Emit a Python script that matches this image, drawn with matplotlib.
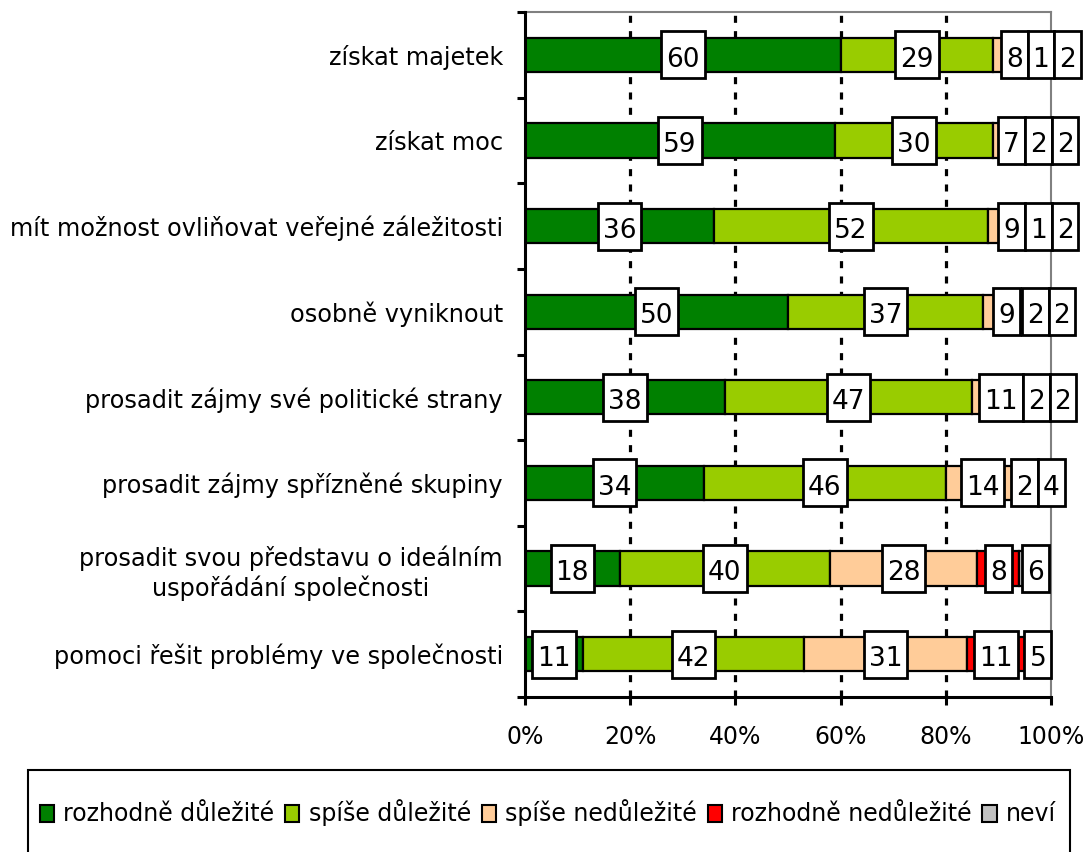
import matplotlib
matplotlib.use("Agg")
import matplotlib.pyplot as plt
from matplotlib.patches import Rectangle, Patch
import numpy as np

categories = [
    "získat majetek",
    "získat moc",
    "mít možnost ovliňovat veřejné záležitosti",
    "osobně vyniknout",
    "prosadit zájmy své politické strany",
    "prosadit zájmy spřízněné skupiny",
    "prosadit svou představu o ideálním\nuspořádání společnosti",
    "pomoci řešit problémy ve společnosti",
]
rozhodne_dulezite = [60, 59, 36, 50, 38, 34, 18, 11]
spise_dulezite = [29, 30, 52, 37, 47, 46, 40, 42]
spise_nedulezite = [8, 7, 9, 9, 11, 14, 28, 31]
rozhodne_nedulezite = [1, 2, 1, 2, 2, 2, 8, 11]
nevi = [2, 2, 2, 2, 2, 4, 6, 5]

series_names = ["rozhodně důležité", "spíše důležité", "spíše nedůležité",
                "rozhodně nedůležité", "neví"]
series = [rozhodne_dulezite, spise_dulezite, spise_nedulezite,
          rozhodne_nedulezite, nevi]
colors = ["#008000", "#99CC00", "#FFCC99", "#FF0000", "#C0C0C0"]
xticks = [0, 20, 40, 60, 80, 100]
xtick_labels = ["0%", "20%", "40%", "60%", "80%", "100%"]

FS = 17
FS_CAT = 17.3
FS_VAL = 19
plt.rcParams['font.family'] = ['DejaVu Sans']

W, H = 1088, 852
fig = plt.figure(figsize=(W / 100, H / 100), dpi=100)
ax = fig.add_axes([525 / W, 1 - 697 / H, (1051 - 525) / W, (697 - 12) / H])

n = len(categories)
y = np.arange(n)
bar_h = 0.4
left = np.zeros(n)
for vals, c in zip(series, colors):
    ax.barh(y, vals, left=left, height=bar_h, color=c, edgecolor="black",
            linewidth=1.6, zorder=2)
    left = left + np.array(vals)

ax.set_xlim(0, 100)
ax.set_ylim(n - 0.5, -0.5)

# grid lines
for gx in [20, 40, 60, 80]:
    ax.axvline(gx, color="black", lw=2.3, linestyle=(0, (2.2, 2.6)), zorder=1)

# spines
ax.spines['top'].set_color("#808080")
ax.spines['right'].set_color("#808080")
ax.spines['top'].set_linewidth(1.5)
ax.spines['right'].set_linewidth(1.5)
ax.spines['left'].set_linewidth(2.2)
ax.spines['bottom'].set_linewidth(2.2)
ax.spines['left'].set_zorder(5)
ax.spines['bottom'].set_zorder(5)

ax.set_yticks(y)
ax.set_yticklabels(categories, fontsize=FS_CAT, multialignment="center")
ax.set_yticks(np.arange(-0.5, n, 1.0), minor=True)
ax.tick_params(axis='y', which='major', length=0, pad=16)
ax.tick_params(axis='y', which='minor', length=6, width=2.2, direction='out')
ax.set_xticks(xticks)
ax.set_xticklabels(xtick_labels, fontsize=FS)
ax.tick_params(axis='x', which='major', length=6, width=2.2, direction='out', pad=14)

# value labels in boxes, pushed right to avoid overlaps
fig.canvas.draw()
renderer = fig.canvas.get_renderer()
px_per_unit = ax.bbox.width / 100.0
box_h = 0.55
pad_px = 5
for i in range(n):
    start = 0.0
    prev_right = -1e9
    for vals in series:
        v = vals[i]
        center = start + v / 2.0
        start += v
        t = ax.text(center, i, str(v), fontsize=FS_VAL, ha="center", va="center_baseline",
                    zorder=6, clip_on=False)
        tw = t.get_window_extent(renderer).width
        wbox = (tw + 2 * pad_px) / px_per_unit
        l = center - wbox / 2.0
        if l < prev_right:
            l = prev_right
        center = l + wbox / 2.0
        t.set_x(center)
        t.set_y(i + 0.02)
        ax.add_patch(Rectangle((l, i - box_h / 2), wbox, box_h, facecolor="white",
                               edgecolor="black", lw=2.0, zorder=5, clip_on=False))
        prev_right = l + wbox

# legend frame
fig.patches.append(Rectangle((28 / W, (852 - 858) / H), (1070 - 28) / W, 88 / H,
                             transform=fig.transFigure, facecolor="none",
                             edgecolor="black", lw=1.5, zorder=0))
handles = [Patch(facecolor=c, edgecolor="black", lw=1.5) for c in colors]
fig.legend(handles, series_names, loc="center", bbox_to_anchor=(548 / W, 1 - 813 / H),
           ncol=5, frameon=False, fontsize=FS, handlelength=0.6, handleheight=0.75,
           handletextpad=0.4, columnspacing=0.45, borderaxespad=0)

fig.savefig("out.png", dpi=100)
